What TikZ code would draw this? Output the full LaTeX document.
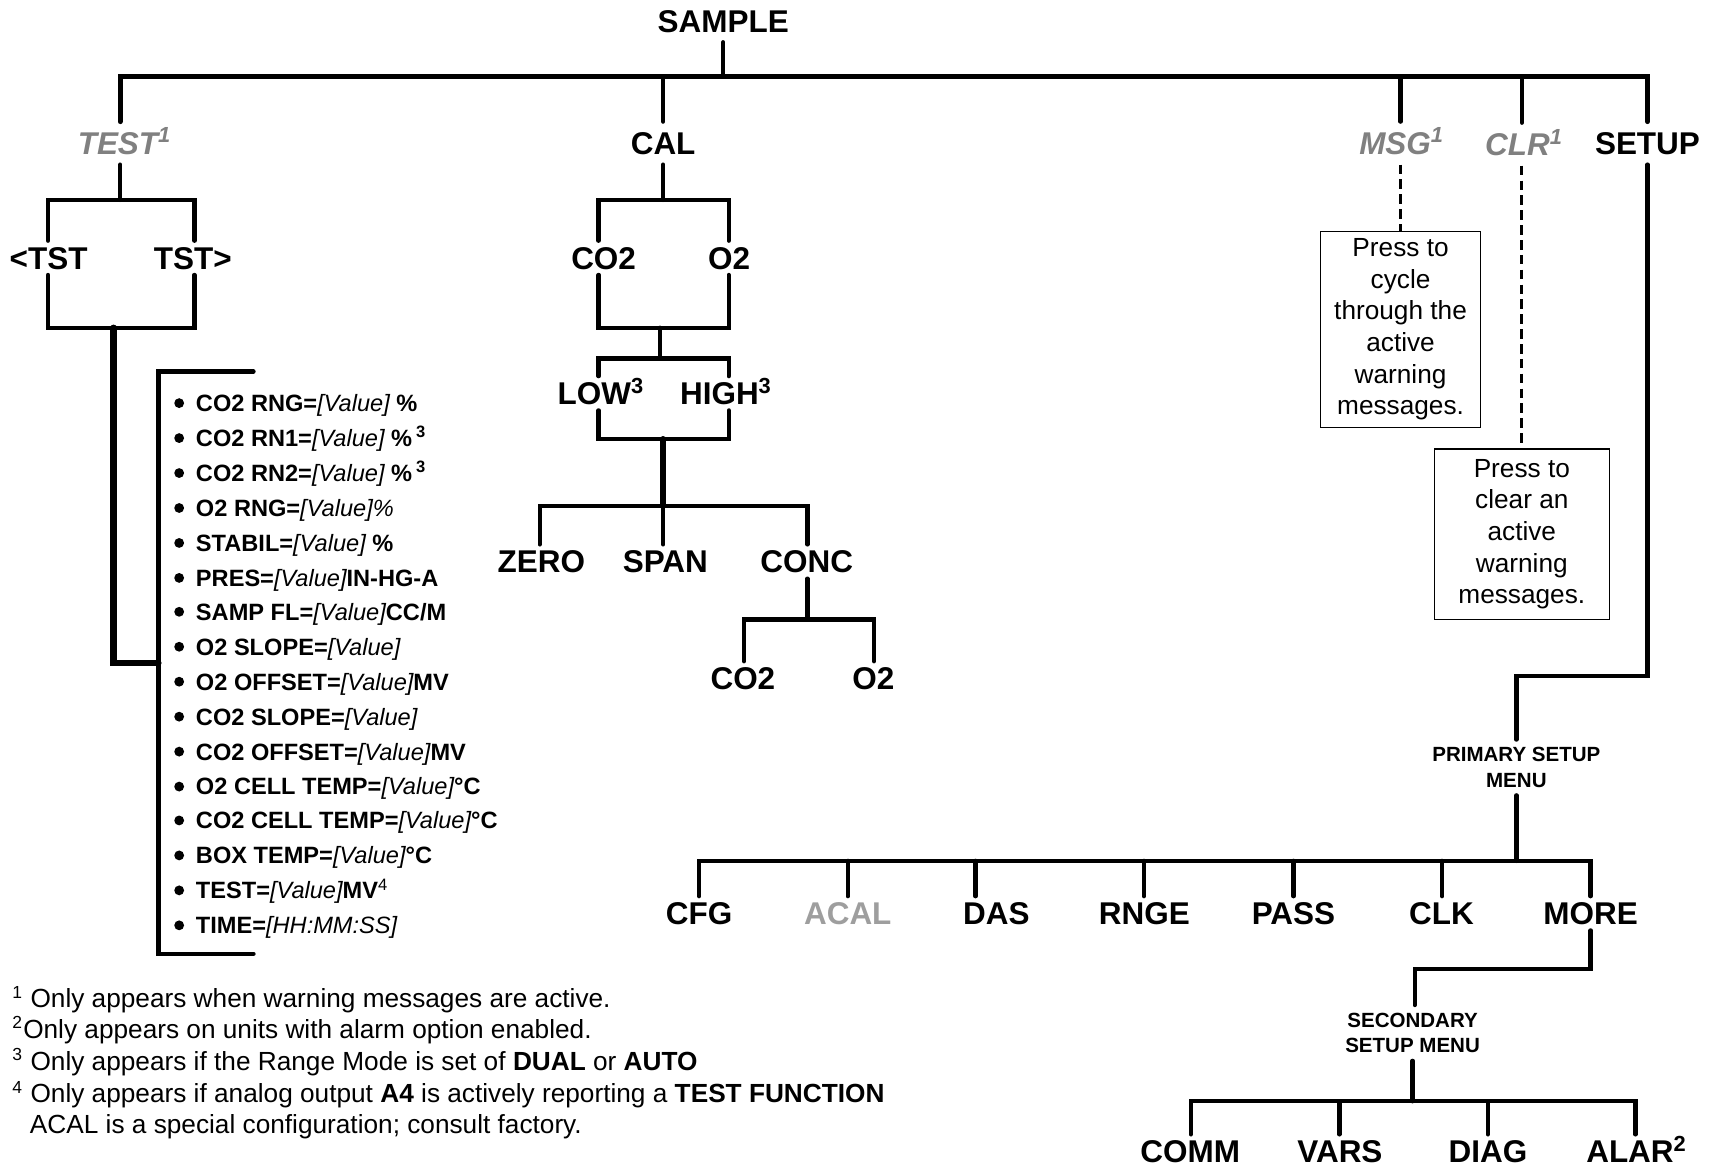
\documentclass[tikz,border=0pt]{standalone}
\usepackage{fontspec}
\setmainfont{Liberation Sans}
\definecolor{tgray}{gray}{0.5}
\definecolor{acalgray}{gray}{0.62}
\newcommand{\vl}[1]{{\mdseries\itshape #1}}
\begin{document}
\begin{tikzpicture}[x=0.5pt,y=-0.5pt,
 conn/.style={line width=2pt, line cap=round},
 stem/.style={line width=2.9pt, line cap=round},
 dsh/.style={line width=1.3pt, dash pattern=on 4.4pt off 2.4pt},
 lbl/.style={font=\fontsize{14.4}{16}\selectfont\bfseries, text height=10.3pt, text depth=0pt, inner xsep=0pt, inner ysep=2.5pt},
 toplbl/.style={lbl, inner ysep=4.5pt},
 gry/.style={text=tgray, font=\fontsize{14.4}{16}\selectfont\bfseries\itshape},
 menu/.style={font=\fontsize{9.4}{11.5}\selectfont\bfseries, align=center, inner xsep=0pt, inner ysep=3.5pt},
 item/.style={anchor=base west, inner sep=0pt, font=\fontsize{10.8}{12}\selectfont\bfseries},
 note/.style={anchor=base west, inner sep=0pt, font=\fontsize{12}{14}\selectfont},
 box/.style={draw, line width=0.6pt, align=center, font=\fontsize{12}{14.5}\selectfont, inner sep=0pt},
 bul/.style={fill=black}]
\useasboundingbox (0,0) rectangle (1568,1069);

% ---------- top level ----------
\node[toplbl] (sample) at (662,19) {SAMPLE};
\node[toplbl, gry] (test) at (108,131) {TEST\rlap{\textsuperscript{1}}};
\node[toplbl] (cal) at (607,131) {CAL};
\node[toplbl, gry] (msg) at (1277,131) {MSG\rlap{\textsuperscript{1}}};
\node[toplbl, gry] (clr) at (1389,132) {CLR\rlap{\textsuperscript{1}}};
\node[toplbl] (setup) at (1508,131) {SETUP};

\coordinate (bTEST) at (110,70);
\coordinate (bCAL) at (607,70);
\coordinate (bMSG) at (1282,70);
\coordinate (bCLR) at (1393,70);
\coordinate (bSETUP) at (1508,70);

\draw[conn] (sample.south) -- (sample.south |- bTEST);
\draw[conn, line width=2.3pt] (test.north -| bTEST) -- (bTEST) -- (bSETUP) -- (setup.north -| bSETUP);
\draw[conn] (bCAL) -- (cal.north -| bCAL);
\draw[conn] (bMSG) -- (msg.north -| bMSG);
\draw[conn] (bCLR) -- (clr.north -| bCLR);

% ---------- TEST subtree ----------
\node[lbl] (tstl) at (44.5,236) {<TST};
\node[lbl] (tstr) at (176.5,236) {TST>};
\coordinate (tJ) at (110,183);
\coordinate (tA) at (44,183);
\coordinate (tB) at (178,183);
\coordinate (tC) at (44,300);
\coordinate (tD) at (178,300);
\coordinate (tE) at (104,300);
\coordinate (lJ) at (145,607);
\draw[conn] (tJ |- test.south) -- (tJ);
\draw[conn] (tstl.north -| tA) -- (tA) -- (tB) -- (tstr.north -| tB);
\draw[conn] (tstl.south -| tC) -- (tC) -- (tD) -- (tstr.south -| tD);
\draw[stem] (tE) |- (lJ);
\coordinate (brT) at (232,340);
\coordinate (brTL) at (145,340);
\coordinate (brBL) at (145,873);
\coordinate (brB) at (232,873);
\draw[conn] (brT) -- (brTL) -- (brBL) -- (brB);

\foreach \yy in {369,401,433,465,497,529,560,592,624,656,688,720,751,783,815,847}
  \fill[bul] (164,\yy) circle (4.5);
\node[item] (i1) at (179,376.7) {CO2 RNG=\vl{[Value]} \%};
\node[item] (i2) at (179,408.7) {CO2 RN1=\vl{[Value]} \%\,\textsuperscript{3}};
\node[item] (i3) at (179,440.7) {CO2 RN2=\vl{[Value]} \%\,\textsuperscript{3}};
\node[item] (i4) at (179,472.7) {O2 RNG=\vl{[Value]\%}};
\node[item] (i5) at (179,504.7) {STABIL=\vl{[Value]} \%};
\node[item] (i6) at (179,536.7) {PRES=\vl{[Value]}IN-HG-A};
\node[item] (i7) at (179,567.7) {SAMP FL=\vl{[Value]}CC/M};
\node[item] (i8) at (179,599.7) {O2 SLOPE=\vl{[Value]}};
\node[item] (i9) at (179,631.7) {O2 OFFSET=\vl{[Value]}MV};
\node[item] (i10) at (179,663.7) {CO2 SLOPE=\vl{[Value]}};
\node[item] (i11) at (179,695.7) {CO2 OFFSET=\vl{[Value]}MV};
\node[item] (i12) at (179,727.7) {O2 CELL TEMP=\vl{[Value]}°C};
\node[item] (i13) at (179,758.7) {CO2 CELL TEMP=\vl{[Value]}°C};
\node[item] (i14) at (179,790.7) {BOX TEMP=\vl{[Value]}°C};
\node[item] (i15) at (179,822.7) {TEST=\vl{[Value]}MV\textsuperscript{\mdseries 4}};
\node[item] (i16) at (179,854.7) {TIME=\vl{[HH:MM:SS]}};

% ---------- CAL subtree ----------
\node[lbl] (co2a) at (552.5,236) {CO2};
\node[lbl] (o2a) at (667.5,236) {O2};
\node[lbl] (low) at (544,360) {LOW\rlap{\textsuperscript{3}}};
\node[lbl] (high) at (658.5,360) {HIGH\rlap{\textsuperscript{3}}};
\node[lbl] (zero) at (495.5,514) {ZERO};
\node[lbl] (span) at (609,514) {SPAN};
\node[lbl] (conc) at (738.5,514) {CONC};
\node[lbl] (co2b) at (680,621) {CO2};
\node[lbl] (o2b) at (799.5,621) {O2};

\coordinate (cJ) at (607,183);
\coordinate (cA) at (548,183);
\coordinate (cB) at (667,183);
\coordinate (cC) at (548,300);
\coordinate (cD) at (667,300);
\coordinate (cE) at (604,300);
\coordinate (cF) at (604,328);
\coordinate (cG) at (548,328);
\coordinate (cH) at (667,328);
\coordinate (cI) at (548,402);
\coordinate (cK) at (667,402);
\coordinate (cL) at (607,402);
\coordinate (cM) at (607,463);
\coordinate (cN) at (494,463);
\coordinate (cO) at (739,463);
\coordinate (cP) at (739,567);
\coordinate (cQ) at (681,567);
\coordinate (cR) at (800,567);
\draw[conn] (cal.south -| cJ) -- (cJ);
\draw[conn] (co2a.north -| cA) -- (cA) -- (cB) -- (o2a.north -| cB);
\draw[conn] (co2a.south -| cC) -- (cC) -- (cD) -- (o2a.south -| cD);
\draw[conn] (cE) -- (cF);
\draw[conn] (low.north -| cG) -- (cG) -- (cH) -- (high.north -| cH);
\draw[conn] (low.south -| cI) -- (cI) -- (cK) -- (high.south -| cK);
\draw[stem] (cL) -- (cM);
\draw[conn] (zero.north -| cN) -- (cN) -- (cO) -- (conc.north -| cO);
\draw[conn] (cM) -- (span.north -| cM);
\draw[conn] (conc.south -| cP) -- (cP);
\draw[conn] (co2b.north -| cQ) -- (cQ) -- (cR) -- (o2b.north -| cR);

% ---------- MSG / CLR ----------
\node[box, minimum width=73pt, minimum height=89.5pt] (msgbox) at (1282,301.5)
  {Press to\\cycle\\through the\\active\\warning\\messages.};
\node[box, minimum width=80pt, minimum height=78pt] (clrbox) at (1393,489)
  {Press to\\clear an\\active\\warning\\messages.};
\draw[dsh] (msgbox.north |- msg.south) -- (msgbox.north);
\draw[dsh] (clrbox.north |- clr.south) -- (clrbox.north);

% ---------- SETUP subtree ----------
\node[menu] (prim) at (1388,702.5) {PRIMARY SETUP\\MENU};
\coordinate (sA) at (1508,619);
\coordinate (sB) at (1388,619);
\draw[conn] (setup.south -| sA) -- (sA) -- (sB) -- (prim.north -| sB);

\node[lbl] (cfg) at (640,836) {CFG};
\node[lbl, text=acalgray] (acal) at (776,836) {ACAL};
\node[lbl] (das) at (912,836) {DAS};
\node[lbl] (rnge) at (1047.5,836) {RNGE};
\node[lbl] (pass) at (1184,836) {PASS};
\node[lbl] (clk) at (1319.5,836) {CLK};
\node[lbl] (more) at (1456,836) {MORE};

\coordinate (pJ) at (1388,788);
\coordinate (pL) at (640,788);
\coordinate (pR) at (1456,788);
\coordinate (pACAL) at (776,788);
\coordinate (pDAS) at (893,788);
\coordinate (pRNGE) at (1047,788);
\coordinate (pPASS) at (1184,788);
\coordinate (pCLK) at (1320,788);
\draw[conn] (prim.south -| pJ) -- (pJ);
\draw[conn] (cfg.north -| pL) -- (pL) -- (pR) -- (more.north -| pR);
\draw[conn] (pACAL) -- (acal.north -| pACAL);
\draw[conn] (pDAS) -- (das.north -| pDAS);
\draw[conn] (pRNGE) -- (rnge.north -| pRNGE);
\draw[conn] (pPASS) -- (pass.north -| pPASS);
\draw[conn] (pCLK) -- (clk.north -| pCLK);

\node[menu] (sec) at (1293,945.5) {SECONDARY\\SETUP MENU};
\coordinate (mA) at (1456,887);
\coordinate (mB) at (1295,887);
\draw[conn] (more.south -| mA) -- (mA) -- (mB) -- (sec.north -| mB);

\node[lbl] (comm) at (1089.5,1054) {COMM};
\node[lbl] (vars) at (1226.5,1054) {VARS};
\node[lbl] (diag) at (1362,1054) {DIAG};
\node[lbl] (alar) at (1492,1054) {ALAR\rlap{\textsuperscript{2}}};
\coordinate (qJ) at (1293,1008);
\coordinate (qL) at (1090,1008);
\coordinate (qR) at (1497,1008);
\coordinate (qV) at (1226,1008);
\coordinate (qD) at (1362,1008);
\draw[conn] (sec.south -| qJ) -- (qJ);
\draw[conn] (comm.north -| qL) -- (qL) -- (qR) -- (alar.north -| qR);
\draw[conn] (qV) -- (vars.north -| qV);
\draw[conn] (qD) -- (diag.north -| qD);

% ---------- footnotes ----------
\node[note] (fn1) at (11,922.6) {\textsuperscript{1} Only appears when warning messages are active.};
\node[note] (fn2) at (11,950.6) {\textsuperscript{2}Only appears on units with alarm option enabled.};
\node[note] (fn3) at (11,979.6) {\textsuperscript{3} Only appears if the Range Mode is set of \textbf{DUAL} or \textbf{AUTO}};
\node[note] (fn4) at (11,1009.6) {\textsuperscript{4} Only appears if analog output \textbf{A4} is actively reporting a \textbf{TEST FUNCTION}};
\node[note] (fn5) at (27,1037.6) {ACAL is a special configuration; consult factory.};
\end{tikzpicture}
\end{document}
